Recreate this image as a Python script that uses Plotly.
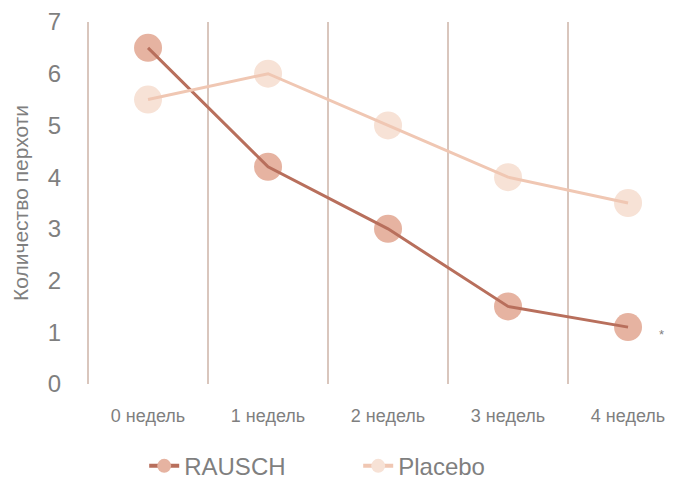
import plotly.graph_objects as go

categories = ["0 недель", "1 недель", "2 недель", "3 недель", "4 недель"]
rausch = [6.5, 4.2, 3.0, 1.5, 1.1]
placebo = [5.5, 6.0, 5.0, 4.0, 3.5]
y_ticks = [0, 1, 2, 3, 4, 5, 6, 7]

series = [
    ("RAUSCH", rausch, "#b86f5c", "#e6b3a1"),
    ("Placebo", placebo, "#f0c7b3", "#f7e2d6"),
]

fig = go.Figure()
# markers first, lines drawn on top (as in the reference)
for name, vals, lc, mc in series:
    fig.add_trace(go.Scatter(x=categories, y=vals, mode="markers", showlegend=False,
                             marker=dict(size=28, color=mc), hoverinfo="skip"))
for name, vals, lc, mc in series:
    fig.add_trace(go.Scatter(x=categories, y=vals, mode="lines", showlegend=False,
                             line=dict(color=lc, width=3), name=name))
# legend entries
for name, vals, lc, mc in series:
    fig.add_trace(go.Scatter(x=[None], y=[None], mode="lines+markers", name=name,
                             line=dict(color=lc, width=4),
                             marker=dict(size=14, color=mc)))

fig.add_annotation(x=4.275, y=0.95, xref="x", yref="y", text="*", showarrow=False,
                   font=dict(size=13, color="#7f7f7f"))

# the page body has an 8px margin, so the figure is sized to fit the window
fig.update_layout(
    width=678, height=473,
    margin=dict(l=78, r=0, t=14, b=97, autoexpand=False),
    paper_bgcolor="white", plot_bgcolor="white",
    font=dict(family="Liberation Sans, Arial, sans-serif", color="#7f7f7f"),
    showlegend=True,
    legend=dict(orientation="h", x=0.097, xanchor="left", y=-0.165, yanchor="top",
                font=dict(size=24, color="#7f7f7f"), entrywidth=169,
                itemwidth=30, bgcolor="rgba(0,0,0,0)"),
    xaxis=dict(type="category", range=[-0.517, 4.483], tickson="boundaries",
               showgrid=True, gridcolor="#d9c6bd", gridwidth=1.5,
               showline=False, zeroline=False, automargin=False,
               ticks="", ticklabelstandoff=19,
               tickfont=dict(size=18, color="#7f7f7f")),
    yaxis=dict(range=[0, 7], tickvals=y_ticks, showgrid=False, zeroline=False,
               showline=False, ticks="outside", ticklen=19, tickcolor="rgba(0,0,0,0)",
               automargin=False,
               tickfont=dict(size=24, color="#7f7f7f"),
               title=dict(text="Количество перхоти", font=dict(size=21, color="#7f7f7f"),
                          standoff=13)),
)

fig.write_html("out.html")
